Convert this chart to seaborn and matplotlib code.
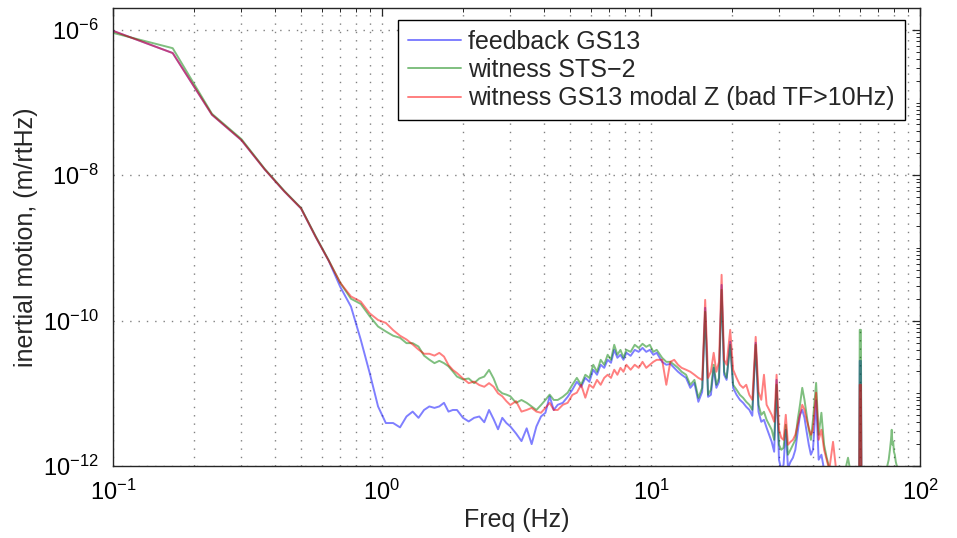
import numpy as np
import pandas as pd
import matplotlib
matplotlib.use("Agg")
import matplotlib.pyplot as plt
import matplotlib.ticker as mticker
import seaborn as sns

# ---------------- data ----------------
freq = [0.1, 0.1667, 0.2333, 0.3, 0.3667, 0.4333, 0.5, 0.5667, 0.6333, 0.7,
        0.7667, 0.8333, 0.9, 0.9667, 1.0333, 1.1, 1.1667, 1.2333, 1.3, 1.3667,
        1.4333, 1.5, 1.5667, 1.6333, 1.7, 1.7667, 1.8333, 1.9, 2.0, 2.1,
        2.2, 2.3, 2.4, 2.5, 2.6, 2.7, 2.8, 2.9, 3.0, 3.15,
        3.3, 3.45, 3.6, 3.75, 3.9, 4.05, 4.2, 4.35, 4.5, 4.7,
        4.9, 5.1, 5.3, 5.5, 5.7, 5.9, 6.1, 6.3, 6.5, 6.7,
        6.9, 7.1, 7.3, 7.5, 7.7, 7.9, 8.1, 8.4, 8.7, 9.0,
        9.3, 9.6, 9.9, 10.2, 10.5, 11.0, 11.4, 11.8, 12.2, 12.6,
        13.0, 13.5, 14.0, 14.5, 15.0, 15.5, 15.9, 16.3, 16.7, 17.1,
        17.5, 17.9, 18.3, 18.7, 19.1, 19.7, 20.2, 20.8, 21.4, 22.0,
        22.6, 23.2, 23.8, 24.5, 25.1, 25.7, 26.3, 26.9, 27.5, 28.1,
        28.7, 29.3, 29.9, 30.5, 31.1, 31.7, 32.3, 33.0, 33.7, 34.4,
        35.1, 35.8, 36.5, 37.2, 37.9, 38.6, 39.3, 40.0, 41.1, 42.0,
        43.0, 44.0, 45.0, 46.0, 47.5, 49.0, 52.0, 54.0, 56.0, 59.4,
        59.7, 60.3, 60.6, 65.0, 72.0, 75.0, 76.5, 77.3, 78.0, 78.5,
        79.0, 79.5, 80.0, 80.6, 81.3, 82.0, 84.0, 90.0, 100.0]

feedback_gs13 = [9.7e-7, 4.8e-7, 6.8e-8, 3.05e-8, 1.2e-8, 6.0e-9, 3.5e-9, 1.42e-9, 6.7e-10, 2.9e-10,
                 1.56e-10, 5.5e-11, 1.9e-11, 6.6e-12, 3.9e-12, 3.9e-12, 3.4e-12, 4.8e-12, 5.6e-12, 4.6e-12,
                 5.9e-12, 6.6e-12, 6.3e-12, 6.6e-12, 7.4e-12, 5.6e-12, 5.9e-12, 5.9e-12, 4.6e-12, 4.1e-12,
                 4.6e-12, 4.8e-12, 4.0e-12, 5.9e-12, 4.4e-12, 3.2e-12, 4.6e-12, 3.9e-12, 3.5e-12, 2.8e-12,
                 2.2e-12, 3.3e-12, 2.0e-12, 3.5e-12, 4.8e-12, 5.4e-12, 9.1e-12, 5.9e-12, 6.95e-12, 7.4e-12,
                 8.95e-12, 1.12e-11, 1.44e-11, 1.23e-11, 1.63e-11, 1.44e-11, 2.11e-11, 1.8e-11, 2.47e-11, 2.24e-11,
                 2.89e-11, 2.63e-11, 3.96e-11, 3.08e-11, 3.39e-11, 2.89e-11, 3.61e-11, 3.28e-11, 3.96e-11, 3.72e-11,
                 4.22e-11, 3.72e-11, 3.96e-11, 3.39e-11, 3.61e-11, 2.71e-11, 2.47e-11, 2.54e-11, 2.24e-11, 1.98e-11,
                 1.8e-11, 1.63e-11, 1.19e-11, 1.39e-11, 7.64e-12, 1.05e-11, 1.5e-10, 8.95e-12, 9.53e-12, 2.24e-11,
                 1.19e-11, 1.44e-11, 3.1e-10, 1.8e-11, 1.53e-11, 5.11e-11, 1.19e-11, 9.53e-12, 8.14e-12, 7.4e-12,
                 6.52e-12, 5.93e-12, 4.91e-12, 4.95e-11, 5.57e-12, 4.06e-12, 4.32e-12, 3.36e-12, 2.69e-12, 2.15e-12,
                 1.57e-12, 1.53e-11, 1.22e-12, 8.9e-13, 1.04e-12, 3.15e-12, 9.4e-13, 1.14e-12, 1.3e-12, 1.67e-12,
                 2.95e-12, 5.06e-12, 5.93e-12, 4.6e-12, 2.95e-12, 1.96e-12, 1.43e-12, 1.67e-12, 8.0e-12, 1.22e-12,
                 1.43e-12, 8.9e-13, 7.6e-13, 6.5e-13, 6.5e-13, 5.5e-13, 5.0e-13, 4.7e-13, 4.7e-13, 4.7e-13,
                 2.8e-11, 2.8e-11, 4.7e-13, 4.5e-13, 4.5e-13, 4.5e-13, 4.5e-13, 4.5e-13, 4.5e-13, 4.5e-13,
                 4.5e-13, 4.5e-13, 4.5e-13, 4.5e-13, 4.5e-13, 4.5e-13, 4.5e-13, 4.5e-13, 4.5e-13]

witness_sts2 = [9.1e-7, 5.6e-7, 7.0e-8, 3.15e-8, 1.22e-8, 6.1e-9, 3.55e-9, 1.45e-9, 6.8e-10, 3.3e-10,
                2.0e-10, 1.7e-10, 1.15e-10, 8.3e-11, 7.1e-11, 6.2e-11, 5.8e-11, 4.9e-11, 4.9e-11, 4.4e-11,
                3.3e-11, 2.9e-11, 2.6e-11, 2.8e-11, 2.6e-11, 2.35e-11, 2.0e-11, 1.7e-11, 1.55e-11, 1.6e-11,
                1.38e-11, 1.6e-11, 1.7e-11, 2.1e-11, 1.6e-11, 1.12e-11, 1.0e-11, 9.6e-12, 9.1e-12, 7.4e-12,
                8.1e-12, 7.4e-12, 6.6e-12, 5.9e-12, 6.9e-12, 8.1e-12, 9.6e-12, 8.1e-12, 8.1e-12, 8.95e-12,
                1.02e-11, 1.31e-11, 1.63e-11, 1.31e-11, 1.8e-11, 1.63e-11, 2.47e-11, 1.98e-11, 2.89e-11, 2.47e-11,
                3.39e-11, 2.89e-11, 4.65e-11, 3.39e-11, 3.96e-11, 3.08e-11, 3.96e-11, 3.72e-11, 4.65e-11, 4.22e-11,
                4.8e-11, 4.36e-11, 4.65e-11, 3.72e-11, 3.96e-11, 3.08e-11, 2.71e-11, 2.71e-11, 2.47e-11, 2.24e-11,
                1.98e-11, 1.8e-11, 1.31e-11, 1.53e-11, 8.67e-12, 1.19e-11, 1.32e-10, 9.53e-12, 1.12e-11, 2.47e-11,
                1.31e-11, 1.63e-11, 2.65e-10, 1.98e-11, 1.63e-11, 4.65e-11, 1.31e-11, 1.12e-11, 9.53e-12, 8.67e-12,
                7.64e-12, 6.95e-12, 5.93e-12, 4.65e-11, 6.95e-12, 5.06e-12, 5.57e-12, 4.32e-12, 3.69e-12, 3.15e-12,
                2.29e-12, 1.31e-11, 1.96e-12, 1.67e-12, 1.78e-12, 3.69e-12, 1.43e-12, 1.67e-12, 1.96e-12, 2.29e-12,
                4.32e-12, 6.95e-12, 1.19e-11, 8.14e-12, 5.06e-12, 3.15e-12, 2.29e-12, 4.32e-12, 1.39e-11, 2.69e-12,
                5.4e-12, 1.96e-12, 1.3e-12, 9.4e-13, 8.9e-13, 8.3e-13, 7.0e-13, 1.3e-12, 6.0e-13, 5.0e-13,
                7.47e-11, 7.47e-11, 5.0e-13, 5.0e-13, 6.0e-13, 8.9e-13, 1.22e-12, 1.67e-12, 2.29e-12, 3.15e-12,
                1.96e-12, 2.15e-12, 1.57e-12, 1.43e-12, 1.14e-12, 1.0e-12, 7.0e-13, 5.0e-13, 4.5e-13]

witness_gs13_modal = [9.7e-7, 4.8e-7, 6.8e-8, 3.05e-8, 1.2e-8, 6.0e-9, 3.5e-9, 1.42e-9, 6.7e-10, 3.3e-10,
                      2.15e-10, 1.83e-10, 1.26e-10, 1.02e-10, 9.3e-11, 7.4e-11, 6.2e-11, 5.5e-11, 4.7e-11, 4.0e-11,
                      3.5e-11, 3.5e-11, 3.3e-11, 3.6e-11, 3.2e-11, 2.45e-11, 2.1e-11, 1.9e-11, 1.6e-11, 1.38e-11,
                      1.45e-11, 1.3e-11, 1.23e-11, 1.38e-11, 1.23e-11, 1.0e-11, 9.1e-12, 7.8e-12, 6.9e-12, 7.8e-12,
                      5.6e-12, 5.9e-12, 6.3e-12, 5.6e-12, 5.4e-12, 6.3e-12, 7.4e-12, 5.9e-12, 5.9e-12, 6.95e-12,
                      7.4e-12, 9.5e-12, 1.02e-11, 1.31e-11, 8.7e-12, 1.31e-11, 1.19e-11, 1.53e-11, 1.31e-11, 1.63e-11,
                      1.8e-11, 1.63e-11, 2.11e-11, 1.8e-11, 2.24e-11, 1.98e-11, 2.47e-11, 2.11e-11, 2.47e-11, 2.24e-11,
                      2.71e-11, 2.24e-11, 2.47e-11, 2.71e-11, 2.89e-11, 2.89e-11, 1.31e-11, 2.71e-11, 2.89e-11, 2.47e-11,
                      2.24e-11, 2.11e-11, 1.98e-11, 1.8e-11, 1.63e-11, 1.53e-11, 1.93e-10, 1.63e-11, 1.98e-11, 3.61e-11,
                      1.98e-11, 2.71e-11, 4.27e-10, 2.89e-11, 2.47e-11, 7.47e-11, 2.11e-11, 1.63e-11, 1.31e-11, 1.19e-11,
                      1.31e-11, 9.53e-12, 8.14e-12, 5.98e-11, 1.05e-11, 8.14e-12, 1.8e-11, 6.95e-12, 5.93e-12, 5.06e-12,
                      4.06e-12, 1.8e-11, 3.15e-12, 2.44e-12, 2.29e-12, 5.06e-12, 1.96e-12, 2.15e-12, 2.29e-12, 2.69e-12,
                      3.69e-12, 5.06e-12, 6.95e-12, 5.93e-12, 4.32e-12, 3.36e-12, 2.69e-12, 3.15e-12, 1.02e-11, 2.29e-12,
                      3.15e-12, 1.67e-12, 1.22e-12, 8.9e-13, 2.15e-12, 7.6e-13, 6.0e-13, 6.5e-13, 5.5e-13, 5.0e-13,
                      1.31e-11, 1.31e-11, 5.0e-13, 4.5e-13, 4.5e-13, 4.5e-13, 4.5e-13, 4.5e-13, 4.5e-13, 4.5e-13,
                      4.5e-13, 4.5e-13, 4.5e-13, 4.5e-13, 4.5e-13, 4.5e-13, 4.5e-13, 4.5e-13, 4.5e-13]

series_labels = ["feedback GS13", "witness STS\u22122", "witness GS13 modal Z (bad TF>10Hz)"]
series_colors = ["#0000ff", "#008000", "#ff0000"]
x_major_ticks = [0.1, 1, 10, 100]
y_major_ticks = [1e-12, 1e-10, 1e-8, 1e-6]

# ---------------- style ----------------
sns.set_style("white")
plt.rcParams['font.family'] = ['Liberation Sans', 'DejaVu Sans']
plt.rcParams['mathtext.default'] = 'regular'

fig = plt.figure(figsize=(9.57, 5.38), dpi=100)
ax = fig.add_axes([113 / 957, 72 / 538, 807 / 957, 458 / 538])

for vals, lab, col in zip([feedback_gs13, witness_sts2, witness_gs13_modal], series_labels, series_colors):
    df = pd.DataFrame({"freq": freq, "val": vals})
    sns.lineplot(data=df, x="freq", y="val", ax=ax, color=col, alpha=0.5,
                 linewidth=1.4, label=lab, estimator=None, sort=False)

ax.set_xscale("log")
ax.set_yscale("log")
ax.set_xlim(0.1, 100)
ax.set_ylim(1e-12, 2e-6)

ax.xaxis.set_major_locator(mticker.FixedLocator(x_major_ticks))
ax.xaxis.set_minor_locator(mticker.LogLocator(base=10, subs=np.arange(2, 10), numticks=100))
ax.xaxis.set_major_formatter(mticker.LogFormatterSciNotation())
ax.xaxis.set_minor_formatter(mticker.NullFormatter())
ax.yaxis.set_major_locator(mticker.FixedLocator(y_major_ticks))
ax.yaxis.set_minor_locator(mticker.LogLocator(base=10, subs=np.arange(1, 10), numticks=100))
ax.yaxis.set_major_formatter(mticker.LogFormatterSciNotation())
ax.yaxis.set_minor_formatter(mticker.NullFormatter())

ax.tick_params(which="both", direction="in", top=True, right=True, colors="0.15",
               labelcolor="black")
ax.tick_params(which="major", length=6, width=0.9, labelsize=17)
ax.tick_params(which="minor", length=3, width=0.7)
ax.tick_params(axis="x", which="major", pad=10)
ax.tick_params(axis="y", which="major", pad=10)

grid_style = dict(linestyle=(0, (1, 5)), color="0.5", linewidth=1.0)
ax.grid(True, which="major", axis="both", **grid_style)
ax.grid(True, which="minor", axis="x", **grid_style)
ax.set_axisbelow(True)

for sp in ax.spines.values():
    sp.set_color("0.15")
    sp.set_linewidth(1.0)

ax.set_xlabel("Freq (Hz)", fontsize=18, labelpad=2)
ax.set_ylabel("inertial motion, (m/rtHz)", fontsize=18, labelpad=4)

leg = ax.legend(loc="upper right", bbox_to_anchor=(0.9814, 0.9738), borderaxespad=0,
                fancybox=False, edgecolor="black", framealpha=1, fontsize=18,
                handlelength=2.1, handletextpad=0.3, labelspacing=0.17, borderpad=0.4)
leg.get_frame().set_linewidth(1.0)

fig.savefig("out.png", dpi=100)
